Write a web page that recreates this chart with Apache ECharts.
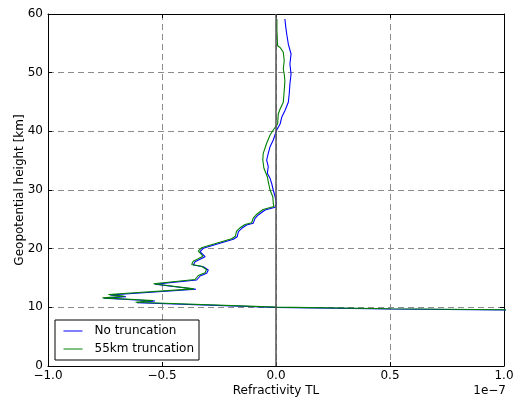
<!DOCTYPE html>
<html><head><meta charset="utf-8">
<script src="https://cdn.jsdelivr.net/npm/echarts@6/dist/echarts.min.js"></script>
<style>html,body{margin:0;padding:0;background:#fff}#c{width:518px;height:401px}</style>
</head><body><div id="c"></div>
<script>
// Refractivity TL values in units of 1e-7, heights in km
const blueTL = [0.039,0.043,0.047,0.054,0.066,0.061,0.066,0.061,0.058,0.054,0.039,0.025,0.018,0.003,-0.012,-0.026,-0.034,-0.041,-0.034,-0.038,-0.026,-0.019,-0.012,-0.004,0.002,-0.004,-0.048,-0.078,-0.092,-0.100,-0.129,-0.150,-0.165,-0.170,-0.187,-0.246,-0.319,-0.333,-0.311,-0.333,-0.355,-0.363,-0.319,-0.297,-0.304,-0.333,-0.348,-0.531,-0.351,-0.728,-0.658,-0.754,-0.531,-0.610,0.0,0.5,1.0,1.6];
const blueH  = [59.14,57.73,56.59,54.88,53.18,51.47,49.77,48.07,46.36,44.95,43.52,42.39,41.25,40.22,38.52,37.38,36.25,35.11,33.97,32.84,31.99,31.14,30.00,28.86,27.73,27.05,26.59,25.74,25.17,24.32,24.03,23.47,22.89,22.04,21.60,20.91,20.06,19.48,18.63,18.19,17.78,17.22,16.93,16.36,15.80,15.34,14.66,13.93,13.07,12.10,11.81,11.54,11.08,10.79,10.00,9.72,9.55,9.35];
const greenTL = [0.004,0.004,0.007,0.018,0.032,0.036,0.032,0.036,0.039,0.036,0.032,0.018,0.010,0.007,-0.012,-0.026,-0.041,-0.056,-0.058,-0.053,-0.038,-0.034,-0.026,-0.014,-0.012,-0.009,-0.057,-0.086,-0.099,-0.107,-0.136,-0.158,-0.173,-0.178,-0.195,-0.254,-0.327,-0.341,-0.320,-0.341,-0.363,-0.370,-0.327,-0.305,-0.311,-0.341,-0.355,-0.537,-0.360,-0.735,-0.664,-0.761,-0.539,-0.616,0.0,0.5,1.0,1.6];
const greenH  = [59.14,57.3,54.6,54.3,53.47,52.04,50.62,49.77,48.63,46.92,44.95,43.80,42.95,41.25,40.22,39.37,37.96,36.25,35.11,33.70,32.27,31.41,30.00,28.86,27.73,27.19,26.68,25.82,25.26,24.41,24.12,23.56,22.98,22.12,21.68,21.00,20.15,19.57,18.71,18.27,17.86,17.30,17.01,16.45,15.89,15.43,14.74,14.01,13.15,12.19,11.90,11.62,11.16,10.87,10.04,9.75,9.58,9.38];
const seriesNames = ['No truncation','55km truncation'];
const xTicks = [-1.0,-0.5,0.0,0.5,1.0];
const yTicks = [0,10,20,30,40,50,60];

const zip = (a,b)=>a.map((v,i)=>[v,b[i]]);
const fmtX = v => (v<0?'\u2212':'') + Math.abs(v).toFixed(1);
const font = 'DejaVu Sans';
const tick = {show:true,inside:true,length:4,lineStyle:{color:'#000'}};
const frame = {show:true,onZero:false,lineStyle:{color:'#000',width:1}};
const grid = {show:true,lineStyle:{color:'#8c8c8c',type:[6,4],width:1}};

const chart = echarts.init(document.getElementById('c'),null,{renderer:'canvas'});
chart.setOption({
  animation:false,
  textStyle:{fontFamily:font},
  grid:{left:48,right:14,top:14,bottom:35,containLabel:false,outerBoundsMode:'none'},
  xAxis:[
    {type:'value',min:xTicks[0],max:xTicks[xTicks.length-1],interval:0.5,position:'bottom',
     axisLine:frame,axisTick:tick,splitLine:grid,
     axisLabel:{formatter:fmtX,color:'#000',fontSize:12,fontFamily:font,margin:4},
     name:'Refractivity TL',nameLocation:'middle',nameGap:19,nameMoveOverlap:false,
     nameTextStyle:{color:'#000',fontSize:12,fontFamily:font,verticalAlign:'top'}},
    {type:'value',min:xTicks[0],max:xTicks[xTicks.length-1],interval:0.5,position:'top',
     axisLine:frame,axisTick:tick,splitLine:{show:false},axisLabel:{show:false}}
  ],
  yAxis:[
    {type:'value',min:yTicks[0],max:yTicks[yTicks.length-1],interval:10,position:'left',
     axisLine:frame,axisTick:tick,splitLine:grid,
     axisLabel:{color:'#000',fontSize:12,fontFamily:font,margin:5},
     name:'Geopotential height [km]',nameLocation:'middle',nameGap:22,nameRotate:90,nameMoveOverlap:false,
     nameTextStyle:{color:'#000',fontSize:12,fontFamily:font}},
    {type:'value',min:yTicks[0],max:yTicks[yTicks.length-1],interval:10,position:'right',
     axisLine:frame,axisTick:tick,splitLine:{show:false},axisLabel:{show:false}}
  ],
  legend:{
    orient:'vertical',left:55,top:320,
    data:seriesNames,
    itemWidth:19,itemHeight:14,itemGap:6,
    padding:[5,5,5,8],
    itemStyle:{opacity:0,borderWidth:0},
    lineStyle:{width:1},
    borderColor:'#000',borderWidth:1,borderRadius:0,backgroundColor:'#fff',
    textStyle:{fontSize:12,fontFamily:font,color:'#000',padding:[0,0,0,7]}
  },
  graphic:[{type:'text',right:12,top:385,style:{text:'1e\u22127',font:'12px "DejaVu Sans"',fill:'#000'}}],
  series:[
    {name:seriesNames[0],type:'line',data:zip(blueTL,blueH),symbol:'none',clip:true,
     lineStyle:{color:'#0000ff',width:1.1},itemStyle:{color:'#0000ff'},z:3,
     markLine:{silent:true,symbol:'none',label:{show:false},
       lineStyle:{color:'#555',width:1.5,type:'solid'},data:[{xAxis:0}]}},
    {name:seriesNames[1],type:'line',data:zip(greenTL,greenH),symbol:'none',clip:true,
     lineStyle:{color:'#008000',width:1.1},itemStyle:{color:'#008000'},z:4}
  ]
});
</script></body></html>
